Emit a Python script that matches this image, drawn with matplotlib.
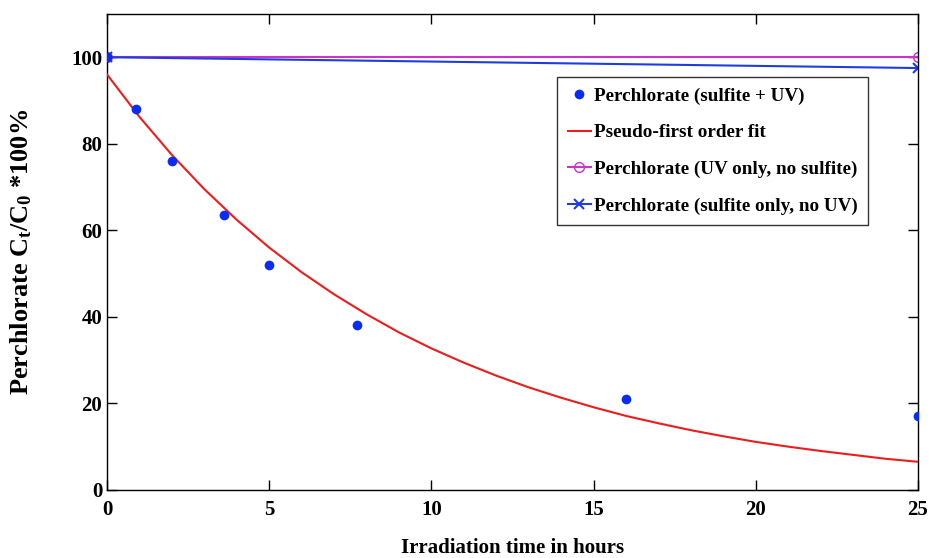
#!/usr/bin/env python3
"""Perchlorate degradation vs irradiation time (MATLAB-style figure)."""

import matplotlib
matplotlib.use("Agg")
import matplotlib.pyplot as plt

# sulfite + UV measurements
t_meas = [0, 0.9, 2.0, 3.6, 5.0, 7.7, 16.0, 25.0]
c_meas = [100, 88, 76, 63.5, 52, 38, 21, 17]

# pseudo-first order fit
t_fit = [0, 1, 2, 3, 4, 5, 6, 7, 8, 9, 10, 11, 12, 13, 14, 15, 16, 17, 18,
         19, 20, 21, 22, 23, 24, 25]
c_fit = [96.0, 86.2, 77.4, 69.5, 62.4, 56.0, 50.3, 45.2, 40.6, 36.4, 32.7,
         29.4, 26.4, 23.7, 21.3, 19.1, 17.1, 15.4, 13.8, 12.4, 11.1, 10.0,
         9.0, 8.1, 7.2, 6.5]

# controls
t_ctrl = [0, 25]
c_uv_only = [100, 100]
c_sulfite_only = [100, 97.5]

plt.rcParams.update({
    "font.family": "Liberation Serif",
    "font.weight": "bold",
    "font.size": 14,
    "mathtext.fontset": "custom",
    "mathtext.rm": "Liberation Serif:bold",
    "mathtext.it": "Liberation Serif:bold",
    "mathtext.bf": "Liberation Serif:bold",
    "mathtext.default": "rm",
})

fig = plt.figure(figsize=(9.31, 5.58), dpi=100)
ax = fig.add_axes([0.115, 0.122, 0.871, 0.853])

ax.plot(t_meas, c_meas, "o", color="#0a2cf0", markersize=7, markeredgewidth=0,
        label="Perchlorate (sulfite + UV)", zorder=5)
ax.plot(t_fit, c_fit, "-", color="#ee1c1c", linewidth=1.5,
        label="Pseudo-first order fit", zorder=3)
ax.plot(t_ctrl, c_uv_only, "-o", color="#cc33cc", markerfacecolor="none",
        markersize=7, linewidth=1.5, label="Perchlorate (UV only, no sulfite)", zorder=2)
ax.plot(t_ctrl, c_sulfite_only, "-x", color="#1f3ce0", markersize=7, markeredgewidth=1.5,
        linewidth=1.5, label="Perchlorate (sulfite only, no UV)", zorder=2)

ax.set_xlim(0, 25)
ax.set_ylim(0, 110)
ax.set_xticks([0, 5, 10, 15, 20, 25])
ax.set_yticks([0, 20, 40, 60, 80, 100])
ax.tick_params(direction="in", length=7, width=1, top=True, right=True, labelsize=15)
ax.tick_params(axis="x", pad=7)
for s in ax.spines.values():
    s.set_linewidth(1.0)

ax.set_xlabel("Irradiation time in hours", fontsize=15, fontweight="bold", labelpad=13)
ax.set_ylabel(r"Perchlorate C$_{t}$/C$_{0}$ *100%", fontsize=19, fontweight="bold", labelpad=27)

leg = ax.legend(loc="upper left", bbox_to_anchor=(0.555, 0.868), fontsize=13.8,
                frameon=True, fancybox=False, edgecolor="black", handlelength=1.2,
                handletextpad=0.15, borderaxespad=0, labelspacing=1.0, borderpad=0.55)
leg.get_frame().set_linewidth(1.0)

fig.savefig("out.png", dpi=100)
